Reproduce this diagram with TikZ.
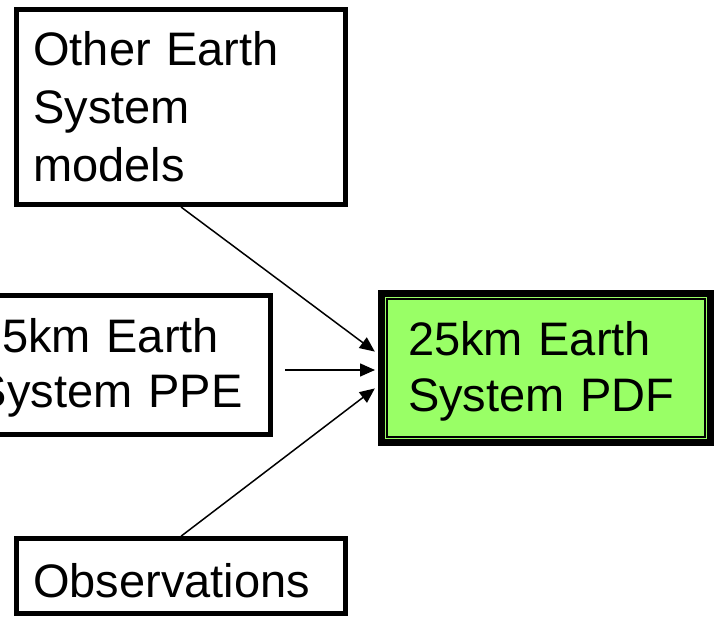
\documentclass[tikz,border=0pt]{standalone}
\usepackage{fontspec}
\setmainfont{Liberation Sans}
\usepackage{tikz}
\usetikzlibrary{arrows.meta}
\definecolor{pdfgreen}{RGB}{153,255,102}

\begin{document}
\begin{tikzpicture}[x=1pt, y=1pt,
	box/.style={draw, line width=5pt, align=left, inner xsep=17pt,
		font=\fontsize{47}{58}\selectfont},
	>={Triangle[length=15pt, width=13pt]}]
	\useasboundingbox (0,0) rectangle (714,621);
	\node [box, text width=295.5pt, minimum height=195pt] (1) at (181,514)
	{Other Earth\\ System\\ models};
	\node [box, text width=284.5pt, inner xsep=10pt, minimum height=139pt,
		text height=40pt, font=\fontsize{47}{55}\selectfont] (2) at (118.25,256)
	{25km Earth\\ System PPE};
	\node [box, text width=295.5pt, minimum height=74.5pt, text height=44pt] (3) at (181,45)
	{Observations};
	\node [box, fill=pdfgreen, line width=7pt, text width=276pt, inner xsep=26.5pt,
		minimum height=149pt, text height=40pt, font=\fontsize{47}{56}\selectfont] (4) at (546,253)
	{25km Earth\\ System PDF};
	\draw [line width=1.2pt] ([shift={(9pt,9pt)}]4.south west)
	rectangle ([shift={(-9pt,-9pt)}]4.north east);
	\draw [ -> , line width=1.5pt, shorten >=4pt] (1.south) to
	([yshift=14pt]4.west);
	\draw [ -> , line width=1.5pt, shorten >=3pt] ([xshift=12pt, yshift=-2pt]2.east |- 4.west) to
	([yshift=-2pt]4.west);
	\draw [ -> , line width=1.5pt, shorten >=4pt] (3.north) to
	([yshift=-18pt]4.west);
\end{tikzpicture}
\end{document}
